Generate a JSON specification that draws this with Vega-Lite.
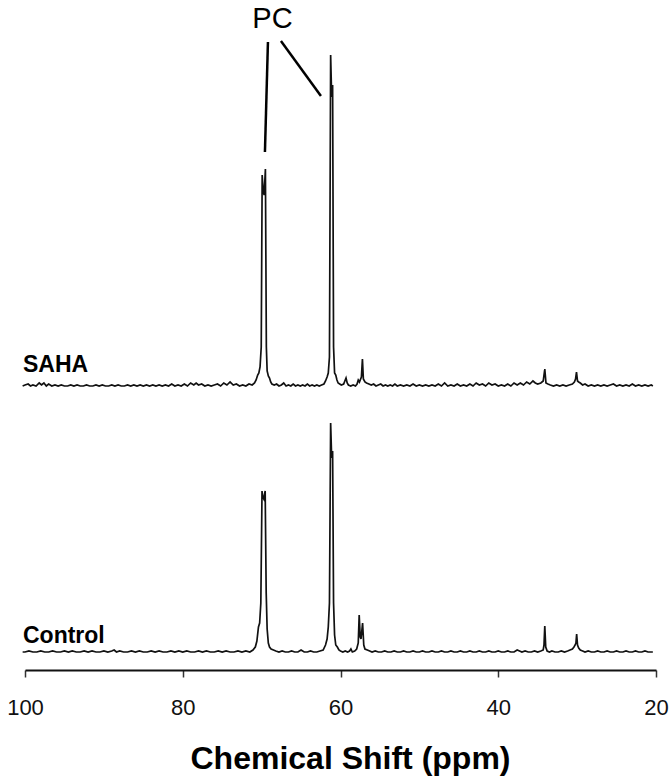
{
  "$schema": "https://vega.github.io/schema/vega-lite/v6.json",
  "width": 631,
  "height": 670,
  "autosize": {"type": "none"},
  "padding": {"left": 25, "right": 16, "top": 0, "bottom": 113},
  "background": "white",
  "config": {
    "view": {"stroke": null},
    "font": "Liberation Sans",
    "axisX": {
      "tickCount": 5,
      "grid": false,
      "domainColor": "#111", "domainWidth": 2,
      "tickColor": "#333", "tickWidth": 1.5, "tickSize": 7,
      "labelFont": "Liberation Sans", "labelFontSize": 22, "labelColor": "#111", "labelPadding": 20,
      "labelFlush": false, "labelOverlap": false,
      "titleFont": "Liberation Sans", "titleFontSize": 32, "titleFontWeight": "bold", "titleColor": "#000", "titlePadding": 25, "titleX": 325
    }
  },
  "data": {"values": [{}]},
  "datasets": {
    "saha": [
      {"ppm":100.3,"int":1},{"ppm":100,"int":2},{"ppm":99.6,"int":3},{"ppm":99.3,"int":1},{"ppm":99,"int":2},{"ppm":98.6,"int":1},{"ppm":98.2,"int":4},{"ppm":97.9,"int":2},{"ppm":97.6,"int":4},{"ppm":97.3,"int":1},{"ppm":97,"int":3},{"ppm":96.6,"int":1},{"ppm":96.2,"int":2},{"ppm":95.8,"int":1},{"ppm":95.4,"int":2},{"ppm":95,"int":1},{"ppm":94.6,"int":1},{"ppm":94.2,"int":2},{"ppm":93.8,"int":1},{"ppm":93.4,"int":2},{"ppm":93,"int":1},{"ppm":92.6,"int":1},{"ppm":92.2,"int":2},{"ppm":91.8,"int":1},{"ppm":91.4,"int":1},{"ppm":91,"int":2},{"ppm":90.6,"int":1},{"ppm":90.2,"int":2},{"ppm":89.8,"int":1},{"ppm":89.4,"int":1},{"ppm":89,"int":2},{"ppm":88.6,"int":1},{"ppm":88.2,"int":2},{"ppm":87.8,"int":1},{"ppm":87.4,"int":1},{"ppm":87,"int":2},{"ppm":86.6,"int":1},{"ppm":86.2,"int":2},{"ppm":85.8,"int":1},{"ppm":85.4,"int":2},{"ppm":85,"int":1},{"ppm":84.6,"int":2},{"ppm":84.2,"int":1},{"ppm":83.8,"int":2},{"ppm":83.4,"int":1},{"ppm":83,"int":2},{"ppm":82.6,"int":1},{"ppm":82.2,"int":2},{"ppm":81.8,"int":1},{"ppm":81.4,"int":3},{"ppm":81,"int":1},{"ppm":80.6,"int":2},{"ppm":80.2,"int":1},{"ppm":79.8,"int":3},{"ppm":79.4,"int":1},{"ppm":79,"int":4},{"ppm":78.6,"int":2},{"ppm":78.3,"int":4},{"ppm":78,"int":2},{"ppm":77.6,"int":3},{"ppm":77.2,"int":1},{"ppm":76.8,"int":2},{"ppm":76.4,"int":1},{"ppm":76,"int":2},{"ppm":75.6,"int":3},{"ppm":75.2,"int":1},{"ppm":74.8,"int":4},{"ppm":74.4,"int":2},{"ppm":74,"int":5},{"ppm":73.6,"int":2},{"ppm":73.2,"int":3},{"ppm":72.8,"int":1},{"ppm":72.4,"int":2},{"ppm":72,"int":1},{"ppm":71.6,"int":3},{"ppm":71.2,"int":2},{"ppm":70.9,"int":4},{"ppm":70.7,"int":7},{"ppm":70.5,"int":12},{"ppm":70.35,"int":14},{"ppm":70.2,"int":20},{"ppm":70.05,"int":40},{"ppm":69.93,"int":212},{"ppm":69.8,"int":196},{"ppm":69.68,"int":192},{"ppm":69.52,"int":218},{"ppm":69.4,"int":40},{"ppm":69.3,"int":16},{"ppm":69.15,"int":11},{"ppm":69,"int":9},{"ppm":68.85,"int":5},{"ppm":68.7,"int":3},{"ppm":68.4,"int":2},{"ppm":68.1,"int":3},{"ppm":67.8,"int":1},{"ppm":67.5,"int":2},{"ppm":67.2,"int":4},{"ppm":66.9,"int":1},{"ppm":66.6,"int":2},{"ppm":66.3,"int":1},{"ppm":66,"int":3},{"ppm":65.7,"int":1},{"ppm":65.4,"int":2},{"ppm":65.1,"int":1},{"ppm":64.8,"int":2},{"ppm":64.5,"int":1},{"ppm":64.2,"int":3},{"ppm":63.9,"int":1},{"ppm":63.6,"int":2},{"ppm":63.3,"int":1},{"ppm":63,"int":2},{"ppm":62.7,"int":1},{"ppm":62.4,"int":2},{"ppm":62.1,"int":3},{"ppm":61.9,"int":6},{"ppm":61.7,"int":10},{"ppm":61.55,"int":14},{"ppm":61.4,"int":30},{"ppm":61.25,"int":332},{"ppm":61.12,"int":290},{"ppm":61,"int":302},{"ppm":60.88,"int":40},{"ppm":60.75,"int":14},{"ppm":60.6,"int":12},{"ppm":60.45,"int":7},{"ppm":60.3,"int":4},{"ppm":60.1,"int":3},{"ppm":59.9,"int":2},{"ppm":59.6,"int":3},{"ppm":59.45,"int":6},{"ppm":59.3,"int":9},{"ppm":59.15,"int":4},{"ppm":59,"int":2},{"ppm":58.7,"int":1},{"ppm":58.4,"int":2},{"ppm":58.1,"int":1},{"ppm":57.9,"int":3},{"ppm":57.75,"int":7},{"ppm":57.6,"int":5},{"ppm":57.35,"int":10},{"ppm":57.22,"int":28},{"ppm":57.1,"int":8},{"ppm":56.9,"int":5},{"ppm":56.7,"int":4},{"ppm":56.4,"int":3},{"ppm":56.1,"int":2},{"ppm":55.8,"int":3},{"ppm":55.5,"int":1},{"ppm":55.2,"int":2},{"ppm":54.9,"int":3},{"ppm":54.6,"int":1},{"ppm":54.3,"int":2},{"ppm":54,"int":1},{"ppm":53.7,"int":2},{"ppm":53.4,"int":1},{"ppm":53.1,"int":3},{"ppm":52.8,"int":1},{"ppm":52.4,"int":2},{"ppm":52,"int":1},{"ppm":51.6,"int":2},{"ppm":51.2,"int":1},{"ppm":50.8,"int":3},{"ppm":50.4,"int":1},{"ppm":50,"int":2},{"ppm":49.6,"int":1},{"ppm":49.2,"int":2},{"ppm":48.8,"int":1},{"ppm":48.4,"int":2},{"ppm":48,"int":1},{"ppm":47.6,"int":3},{"ppm":47.2,"int":1},{"ppm":46.8,"int":4},{"ppm":46.4,"int":1},{"ppm":46,"int":2},{"ppm":45.6,"int":1},{"ppm":45.2,"int":3},{"ppm":44.8,"int":1},{"ppm":44.4,"int":2},{"ppm":44,"int":1},{"ppm":43.6,"int":3},{"ppm":43.2,"int":1},{"ppm":42.8,"int":4},{"ppm":42.4,"int":2},{"ppm":42,"int":3},{"ppm":41.6,"int":1},{"ppm":41.2,"int":4},{"ppm":40.8,"int":2},{"ppm":40.4,"int":3},{"ppm":40,"int":1},{"ppm":39.6,"int":2},{"ppm":39.2,"int":1},{"ppm":38.8,"int":3},{"ppm":38.4,"int":1},{"ppm":38,"int":4},{"ppm":37.6,"int":2},{"ppm":37.2,"int":4},{"ppm":36.8,"int":2},{"ppm":36.4,"int":5},{"ppm":36,"int":3},{"ppm":35.6,"int":6},{"ppm":35.3,"int":4},{"ppm":35,"int":3},{"ppm":34.6,"int":4},{"ppm":34.3,"int":6},{"ppm":34.1,"int":18},{"ppm":33.95,"int":4},{"ppm":33.7,"int":3},{"ppm":33.4,"int":2},{"ppm":33,"int":1},{"ppm":32.6,"int":2},{"ppm":32.2,"int":1},{"ppm":31.8,"int":2},{"ppm":31.4,"int":1},{"ppm":31,"int":2},{"ppm":30.6,"int":3},{"ppm":30.35,"int":5},{"ppm":30.2,"int":8},{"ppm":30.08,"int":15},{"ppm":29.95,"int":6},{"ppm":29.8,"int":5},{"ppm":29.6,"int":4},{"ppm":29.3,"int":2},{"ppm":29,"int":3},{"ppm":28.6,"int":1},{"ppm":28.2,"int":2},{"ppm":27.8,"int":1},{"ppm":27.4,"int":2},{"ppm":27,"int":1},{"ppm":26.6,"int":2},{"ppm":26.2,"int":1},{"ppm":25.8,"int":2},{"ppm":25.4,"int":3},{"ppm":25,"int":1},{"ppm":24.6,"int":2},{"ppm":24.2,"int":1},{"ppm":23.8,"int":2},{"ppm":23.4,"int":1},{"ppm":23,"int":3},{"ppm":22.6,"int":1},{"ppm":22.2,"int":2},{"ppm":21.8,"int":1},{"ppm":21.4,"int":2},{"ppm":21,"int":1},{"ppm":20.6,"int":2},{"ppm":20.4,"int":1}
    ],
    "control": [
      {"ppm":100.3,"int":1},{"ppm":100,"int":1},{"ppm":99.5,"int":2},{"ppm":99,"int":1},{"ppm":98.5,"int":1},{"ppm":98,"int":2},{"ppm":97.5,"int":1},{"ppm":97,"int":1},{"ppm":96.5,"int":2},{"ppm":96,"int":1},{"ppm":95.5,"int":1},{"ppm":95,"int":2},{"ppm":94.5,"int":1},{"ppm":94,"int":2},{"ppm":93.5,"int":1},{"ppm":93,"int":1},{"ppm":92.5,"int":2},{"ppm":92,"int":1},{"ppm":91.5,"int":2},{"ppm":91,"int":1},{"ppm":90.5,"int":1},{"ppm":90,"int":2},{"ppm":89.5,"int":1},{"ppm":89,"int":2},{"ppm":88.7,"int":3},{"ppm":88.4,"int":1},{"ppm":88,"int":2},{"ppm":87.5,"int":1},{"ppm":87,"int":1},{"ppm":86.5,"int":2},{"ppm":86,"int":1},{"ppm":85.5,"int":2},{"ppm":85,"int":1},{"ppm":84.5,"int":1},{"ppm":84,"int":2},{"ppm":83.5,"int":1},{"ppm":83,"int":2},{"ppm":82.5,"int":1},{"ppm":82,"int":1},{"ppm":81.5,"int":2},{"ppm":81,"int":1},{"ppm":80.5,"int":2},{"ppm":80,"int":1},{"ppm":79.5,"int":2},{"ppm":79,"int":1},{"ppm":78.5,"int":1},{"ppm":78,"int":2},{"ppm":77.5,"int":1},{"ppm":77,"int":2},{"ppm":76.5,"int":1},{"ppm":76,"int":1},{"ppm":75.5,"int":2},{"ppm":75,"int":1},{"ppm":74.5,"int":2},{"ppm":74,"int":1},{"ppm":73.5,"int":1},{"ppm":73,"int":2},{"ppm":72.5,"int":1},{"ppm":72,"int":2},{"ppm":71.5,"int":1},{"ppm":71.1,"int":3},{"ppm":70.8,"int":6},{"ppm":70.6,"int":12},{"ppm":70.4,"int":26},{"ppm":70.25,"int":30},{"ppm":70.1,"int":50},{"ppm":69.95,"int":162},{"ppm":69.85,"int":156},{"ppm":69.72,"int":154},{"ppm":69.55,"int":162},{"ppm":69.42,"int":60},{"ppm":69.3,"int":24},{"ppm":69.15,"int":10},{"ppm":69,"int":6},{"ppm":68.8,"int":4},{"ppm":68.5,"int":3},{"ppm":68.2,"int":2},{"ppm":67.8,"int":1},{"ppm":67.4,"int":2},{"ppm":67,"int":1},{"ppm":66.6,"int":1},{"ppm":66.2,"int":2},{"ppm":65.8,"int":1},{"ppm":65.4,"int":1},{"ppm":65,"int":3},{"ppm":64.6,"int":1},{"ppm":64.2,"int":1},{"ppm":63.8,"int":2},{"ppm":63.4,"int":1},{"ppm":63,"int":1},{"ppm":62.6,"int":2},{"ppm":62.2,"int":3},{"ppm":61.9,"int":8},{"ppm":61.7,"int":14},{"ppm":61.55,"int":26},{"ppm":61.4,"int":50},{"ppm":61.25,"int":230},{"ppm":61.12,"int":195},{"ppm":61,"int":202},{"ppm":60.88,"int":50},{"ppm":60.75,"int":18},{"ppm":60.6,"int":8},{"ppm":60.4,"int":6},{"ppm":60.2,"int":3},{"ppm":60,"int":2},{"ppm":59.7,"int":1},{"ppm":59.4,"int":2},{"ppm":59.1,"int":1},{"ppm":58.85,"int":2},{"ppm":58.68,"int":4},{"ppm":58.5,"int":1},{"ppm":58.2,"int":2},{"ppm":57.95,"int":4},{"ppm":57.75,"int":10},{"ppm":57.63,"int":38},{"ppm":57.5,"int":16},{"ppm":57.4,"int":14},{"ppm":57.2,"int":30},{"ppm":57.05,"int":8},{"ppm":56.9,"int":4},{"ppm":56.6,"int":3},{"ppm":56.3,"int":2},{"ppm":56,"int":1},{"ppm":55.6,"int":2},{"ppm":55.2,"int":1},{"ppm":54.8,"int":1},{"ppm":54.4,"int":2},{"ppm":54,"int":1},{"ppm":53.6,"int":1},{"ppm":53.2,"int":2},{"ppm":52.8,"int":1},{"ppm":52.4,"int":1},{"ppm":52,"int":2},{"ppm":51.6,"int":1},{"ppm":51.2,"int":1},{"ppm":50.8,"int":2},{"ppm":50.4,"int":1},{"ppm":50,"int":1},{"ppm":49.6,"int":2},{"ppm":49.2,"int":1},{"ppm":48.8,"int":1},{"ppm":48.4,"int":2},{"ppm":48,"int":1},{"ppm":47.6,"int":1},{"ppm":47.2,"int":2},{"ppm":46.8,"int":1},{"ppm":46.4,"int":1},{"ppm":46,"int":2},{"ppm":45.6,"int":1},{"ppm":45.2,"int":1},{"ppm":44.8,"int":2},{"ppm":44.4,"int":1},{"ppm":44,"int":1},{"ppm":43.6,"int":2},{"ppm":43.2,"int":1},{"ppm":42.8,"int":1},{"ppm":42.4,"int":2},{"ppm":42,"int":1},{"ppm":41.6,"int":1},{"ppm":41.2,"int":2},{"ppm":40.8,"int":1},{"ppm":40.4,"int":1},{"ppm":40,"int":2},{"ppm":39.6,"int":1},{"ppm":39.2,"int":1},{"ppm":38.8,"int":2},{"ppm":38.4,"int":1},{"ppm":38,"int":1},{"ppm":37.6,"int":3},{"ppm":37.3,"int":2},{"ppm":37,"int":1},{"ppm":36.6,"int":2},{"ppm":36.2,"int":1},{"ppm":35.8,"int":1},{"ppm":35.4,"int":2},{"ppm":35,"int":1},{"ppm":34.6,"int":2},{"ppm":34.3,"int":3},{"ppm":34.2,"int":8},{"ppm":34.1,"int":27},{"ppm":33.98,"int":6},{"ppm":33.8,"int":2},{"ppm":33.5,"int":1},{"ppm":33.2,"int":2},{"ppm":32.8,"int":1},{"ppm":32.4,"int":1},{"ppm":32,"int":2},{"ppm":31.6,"int":1},{"ppm":31.2,"int":2},{"ppm":30.9,"int":3},{"ppm":30.6,"int":4},{"ppm":30.4,"int":6},{"ppm":30.25,"int":8},{"ppm":30.15,"int":10},{"ppm":30.06,"int":19},{"ppm":29.95,"int":8},{"ppm":29.8,"int":5},{"ppm":29.6,"int":3},{"ppm":29.3,"int":2},{"ppm":29,"int":1},{"ppm":28.6,"int":2},{"ppm":28.2,"int":1},{"ppm":27.8,"int":1},{"ppm":27.4,"int":2},{"ppm":27,"int":1},{"ppm":26.6,"int":1},{"ppm":26.2,"int":2},{"ppm":25.8,"int":1},{"ppm":25.4,"int":1},{"ppm":25,"int":2},{"ppm":24.6,"int":1},{"ppm":24.2,"int":1},{"ppm":23.8,"int":2},{"ppm":23.4,"int":1},{"ppm":23,"int":1},{"ppm":22.6,"int":2},{"ppm":22.2,"int":1},{"ppm":21.8,"int":1},{"ppm":21.4,"int":2},{"ppm":21,"int":1},{"ppm":20.6,"int":1},{"ppm":20.4,"int":1}
    ]
  },
  "resolve": {"scale": {"y": "independent"}},
  "layer": [
    {
      "layer": [
        {
          "data": {"name": "control"},
          "mark": {"type": "line", "color": "#111", "strokeWidth": 1.7, "clip": false},
          "encoding": {
            "x": {"field": "ppm", "type": "quantitative", "title": "Chemical Shift (ppm)", "scale": {"domain": [20, 100], "reverse": true, "nice": false, "zero": false}},
            "y": {"field": "int", "type": "quantitative", "scale": {"domain": [-17, 653], "nice": false, "zero": false}, "axis": null}
          }
        },
        {
          "mark": {"type": "text", "text": "Control", "font": "Liberation Sans", "fontWeight": "bold", "fontSize": 23, "align": "left", "baseline": "alphabetic", "dx": -2, "color": "#000"},
          "encoding": {
            "x": {"datum": 100, "type": "quantitative", "title": "Chemical Shift (ppm)"},
            "y": {"datum": 10, "type": "quantitative", "axis": null}
          }
        }
      ]
    },
    {
      "layer": [
        {
          "data": {"name": "saha"},
          "mark": {"type": "line", "color": "#111", "strokeWidth": 1.7, "clip": false},
          "encoding": {
            "x": {"field": "ppm", "type": "quantitative", "title": "Chemical Shift (ppm)"},
            "y": {"field": "int", "type": "quantitative", "scale": {"domain": [-283, 387], "nice": false, "zero": false}, "axis": null}
          }
        },
        {
          "mark": {"type": "text", "text": "SAHA", "font": "Liberation Sans", "fontWeight": "bold", "fontSize": 23, "align": "left", "baseline": "alphabetic", "dx": -2, "color": "#000"},
          "encoding": {
            "x": {"datum": 100, "type": "quantitative", "title": "Chemical Shift (ppm)"},
            "y": {"datum": 15, "type": "quantitative", "axis": null}
          }
        },
        {
          "mark": {"type": "text", "text": "PC", "font": "Liberation Sans", "fontSize": 29, "align": "center", "baseline": "alphabetic", "color": "#000"},
          "encoding": {
            "x": {"datum": 68.63, "type": "quantitative", "title": "Chemical Shift (ppm)"},
            "y": {"datum": 359, "type": "quantitative", "axis": null}
          }
        },
        {
          "mark": {"type": "rule", "strokeWidth": 2.5, "color": "#000"},
          "encoding": {
            "x": {"datum": 69.2, "type": "quantitative", "title": "Chemical Shift (ppm)"},
            "x2": {"datum": 69.58},
            "y": {"datum": 345, "type": "quantitative", "axis": null},
            "y2": {"datum": 235}
          }
        },
        {
          "mark": {"type": "rule", "strokeWidth": 2.5, "color": "#000"},
          "encoding": {
            "x": {"datum": 67.55, "type": "quantitative", "title": "Chemical Shift (ppm)"},
            "x2": {"datum": 62.48},
            "y": {"datum": 346, "type": "quantitative", "axis": null},
            "y2": {"datum": 291}
          }
        }
      ]
    }
  ]
}
